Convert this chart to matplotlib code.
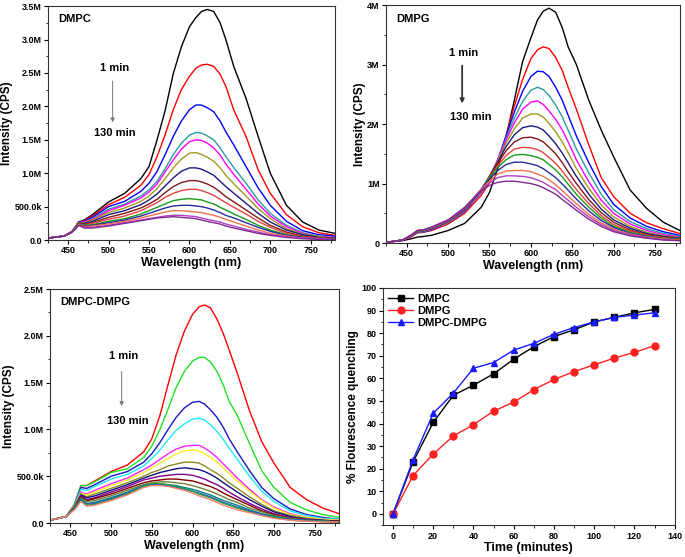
import numpy as np
import matplotlib
matplotlib.use("Agg")
import matplotlib.pyplot as plt
from matplotlib.ticker import MultipleLocator, FuncFormatter

plt.rcParams['font.family'] = ['Liberation Sans', 'DejaVu Sans']
plt.rcParams['font.weight'] = 'bold'

# wavelength grid (nm) shared by all spectra
wl = [425, 445, 455, 463, 470, 480, 500, 520, 540, 550, 560, 570, 580, 590, 600,
      608, 615, 622, 630, 638, 645, 655, 670, 685, 700, 720, 740, 760, 780]

# intensities in millions of CPS, 1 min ... 130 min
dmpc = [
    [0.03, 0.06, 0.13, 0.27, 0.30, 0.38, 0.57, 0.70, 0.92, 1.10, 1.50, 1.94, 2.49, 2.89, 3.19, 3.33, 3.42, 3.45, 3.42, 3.25, 3.00, 2.59, 2.12, 1.55, 1.00, 0.52, 0.27, 0.15, 0.10],
    [0.03, 0.06, 0.13, 0.27, 0.29, 0.36, 0.53, 0.64, 0.82, 0.98, 1.25, 1.58, 1.95, 2.25, 2.45, 2.57, 2.62, 2.63, 2.60, 2.48, 2.30, 1.94, 1.55, 1.05, 0.70, 0.38, 0.20, 0.11, 0.07],
    [0.03, 0.06, 0.13, 0.27, 0.28, 0.34, 0.50, 0.58, 0.73, 0.85, 1.03, 1.28, 1.55, 1.78, 1.95, 2.02, 2.02, 1.98, 1.92, 1.78, 1.62, 1.42, 1.10, 0.78, 0.52, 0.28, 0.14, 0.08, 0.06],
    [0.03, 0.06, 0.13, 0.26, 0.27, 0.32, 0.46, 0.54, 0.66, 0.75, 0.88, 1.07, 1.28, 1.45, 1.57, 1.61, 1.60, 1.56, 1.50, 1.38, 1.25, 1.08, 0.85, 0.60, 0.40, 0.22, 0.11, 0.06, 0.04],
    [0.03, 0.06, 0.13, 0.26, 0.27, 0.31, 0.44, 0.52, 0.63, 0.72, 0.84, 1.02, 1.20, 1.36, 1.47, 1.50, 1.49, 1.45, 1.38, 1.27, 1.14, 0.98, 0.76, 0.54, 0.36, 0.20, 0.10, 0.05, 0.04],
    [0.03, 0.06, 0.13, 0.26, 0.26, 0.30, 0.41, 0.48, 0.58, 0.66, 0.77, 0.92, 1.08, 1.21, 1.30, 1.31, 1.28, 1.24, 1.18, 1.08, 0.97, 0.84, 0.66, 0.47, 0.32, 0.17, 0.09, 0.05, 0.03],
    [0.03, 0.06, 0.12, 0.25, 0.25, 0.28, 0.38, 0.44, 0.53, 0.60, 0.69, 0.81, 0.93, 1.03, 1.08, 1.08, 1.06, 1.02, 0.97, 0.88, 0.80, 0.70, 0.55, 0.40, 0.27, 0.15, 0.08, 0.04, 0.03],
    [0.03, 0.06, 0.12, 0.25, 0.24, 0.26, 0.34, 0.40, 0.48, 0.54, 0.61, 0.71, 0.80, 0.86, 0.89, 0.89, 0.87, 0.84, 0.79, 0.72, 0.65, 0.57, 0.45, 0.33, 0.22, 0.12, 0.06, 0.03, 0.02],
    [0.03, 0.06, 0.12, 0.24, 0.23, 0.25, 0.31, 0.36, 0.44, 0.50, 0.56, 0.64, 0.70, 0.74, 0.76, 0.76, 0.74, 0.71, 0.67, 0.61, 0.56, 0.49, 0.39, 0.28, 0.19, 0.10, 0.05, 0.03, 0.02],
    [0.03, 0.06, 0.12, 0.24, 0.22, 0.23, 0.28, 0.32, 0.39, 0.44, 0.49, 0.54, 0.59, 0.61, 0.62, 0.61, 0.60, 0.57, 0.54, 0.49, 0.45, 0.39, 0.31, 0.22, 0.15, 0.08, 0.04, 0.02, 0.02],
    [0.03, 0.06, 0.12, 0.23, 0.21, 0.22, 0.26, 0.30, 0.36, 0.40, 0.44, 0.48, 0.51, 0.52, 0.52, 0.51, 0.50, 0.48, 0.45, 0.41, 0.37, 0.33, 0.26, 0.19, 0.13, 0.07, 0.04, 0.02, 0.01],
    [0.03, 0.06, 0.12, 0.23, 0.20, 0.21, 0.24, 0.28, 0.33, 0.36, 0.39, 0.42, 0.44, 0.44, 0.43, 0.42, 0.41, 0.39, 0.37, 0.34, 0.31, 0.27, 0.21, 0.15, 0.10, 0.06, 0.03, 0.02, 0.01],
    [0.03, 0.06, 0.12, 0.22, 0.19, 0.19, 0.22, 0.26, 0.30, 0.32, 0.34, 0.36, 0.37, 0.37, 0.36, 0.35, 0.33, 0.31, 0.29, 0.27, 0.24, 0.21, 0.16, 0.12, 0.08, 0.05, 0.03, 0.02, 0.01],
    [0.03, 0.06, 0.12, 0.22, 0.18, 0.18, 0.21, 0.25, 0.29, 0.31, 0.33, 0.34, 0.35, 0.34, 0.33, 0.32, 0.30, 0.28, 0.26, 0.24, 0.21, 0.18, 0.14, 0.10, 0.07, 0.04, 0.02, 0.01, 0.01],
]

dmpg = [
    [0.01, 0.04, 0.07, 0.10, 0.11, 0.13, 0.21, 0.33, 0.60, 0.85, 1.25, 1.78, 2.40, 3.05, 3.45, 3.75, 3.90, 3.95, 3.88, 3.62, 3.30, 3.00, 2.40, 1.90, 1.45, 0.89, 0.58, 0.35, 0.21],
    [0.01, 0.05, 0.10, 0.17, 0.18, 0.21, 0.32, 0.50, 0.80, 1.02, 1.35, 1.80, 2.30, 2.75, 3.10, 3.25, 3.30, 3.27, 3.12, 2.90, 2.62, 2.25, 1.65, 1.10, 0.78, 0.50, 0.34, 0.24, 0.16],
    [0.01, 0.05, 0.11, 0.18, 0.19, 0.22, 0.34, 0.53, 0.85, 1.08, 1.40, 1.80, 2.20, 2.55, 2.80, 2.89, 2.88, 2.80, 2.62, 2.40, 2.15, 1.80, 1.35, 0.95, 0.65, 0.42, 0.28, 0.19, 0.13],
    [0.01, 0.05, 0.11, 0.18, 0.19, 0.23, 0.34, 0.54, 0.86, 1.10, 1.40, 1.76, 2.10, 2.38, 2.57, 2.62, 2.58, 2.48, 2.32, 2.12, 1.90, 1.58, 1.18, 0.82, 0.56, 0.36, 0.24, 0.16, 0.11],
    [0.01, 0.05, 0.11, 0.19, 0.20, 0.23, 0.35, 0.55, 0.87, 1.11, 1.40, 1.73, 2.02, 2.25, 2.37, 2.39, 2.33, 2.22, 2.08, 1.90, 1.70, 1.40, 1.03, 0.72, 0.50, 0.32, 0.21, 0.14, 0.10],
    [0.01, 0.05, 0.12, 0.19, 0.20, 0.24, 0.35, 0.56, 0.88, 1.12, 1.38, 1.68, 1.92, 2.10, 2.17, 2.17, 2.12, 2.01, 1.87, 1.70, 1.52, 1.25, 0.92, 0.64, 0.44, 0.28, 0.18, 0.12, 0.09],
    [0.01, 0.05, 0.12, 0.19, 0.20, 0.24, 0.36, 0.56, 0.89, 1.12, 1.36, 1.62, 1.82, 1.94, 1.97, 1.95, 1.90, 1.80, 1.67, 1.51, 1.35, 1.12, 0.82, 0.57, 0.39, 0.25, 0.16, 0.11, 0.08],
    [0.01, 0.05, 0.12, 0.20, 0.21, 0.25, 0.36, 0.57, 0.90, 1.12, 1.34, 1.55, 1.70, 1.77, 1.78, 1.75, 1.70, 1.61, 1.50, 1.35, 1.20, 1.00, 0.73, 0.51, 0.35, 0.22, 0.14, 0.10, 0.07],
    [0.01, 0.05, 0.12, 0.20, 0.21, 0.25, 0.37, 0.57, 0.90, 1.11, 1.30, 1.47, 1.58, 1.61, 1.60, 1.57, 1.52, 1.44, 1.34, 1.21, 1.08, 0.90, 0.66, 0.46, 0.31, 0.20, 0.13, 0.09, 0.06],
    [0.01, 0.05, 0.12, 0.20, 0.21, 0.25, 0.37, 0.58, 0.90, 1.10, 1.27, 1.40, 1.48, 1.49, 1.47, 1.44, 1.40, 1.32, 1.23, 1.11, 0.99, 0.82, 0.60, 0.42, 0.28, 0.18, 0.12, 0.08, 0.06],
    [0.01, 0.05, 0.13, 0.21, 0.22, 0.26, 0.37, 0.58, 0.90, 1.07, 1.22, 1.32, 1.36, 1.36, 1.33, 1.30, 1.25, 1.18, 1.10, 0.99, 0.89, 0.74, 0.54, 0.38, 0.26, 0.16, 0.11, 0.07, 0.05],
    [0.01, 0.05, 0.13, 0.21, 0.22, 0.26, 0.38, 0.59, 0.90, 1.04, 1.16, 1.21, 1.22, 1.22, 1.20, 1.16, 1.12, 1.06, 0.98, 0.88, 0.79, 0.66, 0.48, 0.34, 0.23, 0.15, 0.10, 0.07, 0.05],
    [0.01, 0.05, 0.13, 0.21, 0.22, 0.26, 0.38, 0.59, 0.89, 1.01, 1.10, 1.13, 1.13, 1.12, 1.10, 1.06, 1.02, 0.96, 0.90, 0.80, 0.72, 0.60, 0.44, 0.31, 0.21, 0.14, 0.09, 0.06, 0.04],
    [0.01, 0.05, 0.13, 0.21, 0.22, 0.27, 0.39, 0.60, 0.88, 0.97, 1.02, 1.04, 1.04, 1.02, 1.00, 0.97, 0.93, 0.88, 0.82, 0.73, 0.66, 0.55, 0.40, 0.28, 0.19, 0.12, 0.08, 0.05, 0.04],
]

mix = [
    [0.03, 0.07, 0.20, 0.40, 0.40, 0.45, 0.55, 0.62, 0.76, 0.90, 1.15, 1.48, 1.80, 2.05, 2.23, 2.31, 2.33, 2.30, 2.18, 2.02, 1.85, 1.60, 1.20, 0.87, 0.64, 0.38, 0.25, 0.16, 0.10],
    [0.03, 0.07, 0.20, 0.40, 0.40, 0.44, 0.54, 0.58, 0.70, 0.82, 1.00, 1.22, 1.45, 1.62, 1.73, 1.77, 1.77, 1.72, 1.62, 1.47, 1.30, 1.15, 0.85, 0.56, 0.38, 0.22, 0.14, 0.09, 0.06],
    [0.03, 0.07, 0.19, 0.38, 0.37, 0.41, 0.50, 0.55, 0.65, 0.74, 0.86, 1.00, 1.13, 1.23, 1.29, 1.30, 1.27, 1.21, 1.13, 1.02, 0.90, 0.76, 0.56, 0.38, 0.26, 0.15, 0.09, 0.06, 0.04],
    [0.03, 0.07, 0.19, 0.36, 0.35, 0.39, 0.47, 0.52, 0.61, 0.69, 0.78, 0.89, 0.99, 1.06, 1.11, 1.12, 1.10, 1.05, 0.98, 0.89, 0.80, 0.68, 0.50, 0.34, 0.23, 0.13, 0.08, 0.05, 0.04],
    [0.03, 0.07, 0.18, 0.33, 0.31, 0.35, 0.42, 0.48, 0.57, 0.62, 0.68, 0.74, 0.79, 0.82, 0.83, 0.83, 0.80, 0.76, 0.70, 0.63, 0.57, 0.48, 0.36, 0.25, 0.17, 0.10, 0.06, 0.04, 0.03],
    [0.03, 0.07, 0.18, 0.32, 0.30, 0.33, 0.40, 0.46, 0.54, 0.59, 0.64, 0.69, 0.74, 0.77, 0.78, 0.77, 0.74, 0.70, 0.65, 0.59, 0.53, 0.45, 0.34, 0.24, 0.16, 0.09, 0.06, 0.04, 0.03],
    [0.03, 0.07, 0.17, 0.31, 0.28, 0.31, 0.37, 0.43, 0.50, 0.54, 0.57, 0.61, 0.63, 0.65, 0.65, 0.64, 0.61, 0.57, 0.53, 0.48, 0.43, 0.37, 0.28, 0.20, 0.13, 0.08, 0.05, 0.03, 0.02],
    [0.03, 0.07, 0.17, 0.30, 0.27, 0.29, 0.35, 0.41, 0.48, 0.51, 0.54, 0.56, 0.58, 0.59, 0.58, 0.57, 0.55, 0.52, 0.48, 0.43, 0.39, 0.33, 0.25, 0.18, 0.12, 0.07, 0.04, 0.03, 0.02],
    [0.03, 0.07, 0.17, 0.29, 0.25, 0.27, 0.33, 0.39, 0.46, 0.48, 0.50, 0.51, 0.52, 0.52, 0.51, 0.49, 0.47, 0.44, 0.41, 0.37, 0.33, 0.28, 0.21, 0.15, 0.10, 0.06, 0.04, 0.02, 0.02],
    [0.03, 0.07, 0.16, 0.28, 0.24, 0.26, 0.31, 0.37, 0.43, 0.45, 0.46, 0.47, 0.47, 0.46, 0.45, 0.43, 0.41, 0.39, 0.36, 0.32, 0.29, 0.25, 0.19, 0.13, 0.09, 0.05, 0.03, 0.02, 0.02],
    [0.03, 0.07, 0.16, 0.27, 0.23, 0.24, 0.29, 0.35, 0.41, 0.43, 0.44, 0.44, 0.43, 0.42, 0.40, 0.38, 0.36, 0.34, 0.31, 0.28, 0.25, 0.22, 0.16, 0.12, 0.08, 0.05, 0.03, 0.02, 0.01],
    [0.03, 0.07, 0.15, 0.26, 0.21, 0.22, 0.27, 0.33, 0.40, 0.42, 0.42, 0.41, 0.40, 0.38, 0.36, 0.34, 0.32, 0.30, 0.27, 0.24, 0.22, 0.19, 0.14, 0.10, 0.07, 0.04, 0.03, 0.02, 0.01],
    [0.03, 0.07, 0.15, 0.25, 0.20, 0.21, 0.26, 0.32, 0.39, 0.41, 0.41, 0.40, 0.38, 0.36, 0.34, 0.32, 0.30, 0.28, 0.25, 0.22, 0.20, 0.17, 0.13, 0.09, 0.06, 0.04, 0.02, 0.02, 0.01],
    [0.03, 0.07, 0.15, 0.24, 0.19, 0.20, 0.25, 0.31, 0.39, 0.42, 0.42, 0.41, 0.39, 0.37, 0.34, 0.31, 0.29, 0.27, 0.24, 0.21, 0.19, 0.16, 0.12, 0.08, 0.06, 0.03, 0.02, 0.02, 0.01],
    [0.03, 0.07, 0.14, 0.23, 0.18, 0.19, 0.24, 0.30, 0.38, 0.40, 0.40, 0.39, 0.37, 0.35, 0.32, 0.29, 0.27, 0.25, 0.22, 0.19, 0.17, 0.14, 0.11, 0.08, 0.05, 0.03, 0.02, 0.01, 0.01],
]

colors_a = ['#000000', '#ff0000', '#0000ff', '#2a9c9c', '#ff00ff', '#a09a20', '#1a1a80',
            '#801818', '#e84040', '#1a9a1a', '#2a2aa0', '#f07050', '#b040c0', '#802890']
colors_b = ['#ff0000', '#20e020', '#1818c0', '#20e8f8', '#ff20ff', '#f8f020', '#8a8a20',
            '#101080', '#800090', '#800000', '#708030', '#008080', '#3050d0', '#20a040', '#ff8070']

# quenching kinetics
time_min = [0, 10, 20, 30, 40, 50, 60, 70, 80, 90, 100, 110, 120, 130]
q_dmpc = [0, 23, 40.5, 52.5, 57, 62, 68.5, 74, 78.5, 81.5, 85, 87, 89, 90.5]
q_dmpg = [0, 17, 26.5, 34.5, 39.5, 45.5, 49.5, 55, 59.5, 63, 66, 69, 71.5, 74.5]
q_mix = [0, 24, 44.5, 53.5, 64.5, 67, 72.5, 75.5, 79.5, 82.5, 85, 87, 88, 89]

fig = plt.figure(figsize=(6.85, 5.57), dpi=100)
ax1 = fig.add_axes([0.070, 0.569, 0.419, 0.420])
ax2 = fig.add_axes([0.5635, 0.5637, 0.429, 0.427])
ax3 = fig.add_axes([0.073, 0.061, 0.422, 0.420])
ax4 = fig.add_axes([0.559, 0.057, 0.426, 0.426])


def fmt_k(v, pos):
    if v == 0:
        return '0.0'
    if v < 1e6:
        return f'{v / 1e3:.1f}k'
    return f'{v / 1e6:.1f}M'


def fmt_m(v, pos):
    if v == 0:
        return '0'
    return f'{v / 1e6:.0f}M'


def style(ax):
    ax.tick_params(direction='out', length=3, width=0.8, labelsize=6.5, pad=1.5,
                   top=False, right=False)
    ax.tick_params(which='minor', direction='out', length=1.8, width=0.6)
    for sp in ax.spines.values():
        sp.set_linewidth(0.8)
        sp.set_color('#333333')
    for lab in ax.get_xticklabels() + ax.get_yticklabels():
        lab.set_fontweight('bold')


def spectra(ax, data, colors, ymax, major, fmt, name, t1, arrow, t2, arrow_lw):
    for curve, c in zip(data, colors):
        ax.plot(wl, np.array(curve) * 1e6, color=c, lw=1.0)
    ax.set_xlim(425, 780)
    ax.set_ylim(0, ymax)
    ax.xaxis.set_major_locator(MultipleLocator(50))
    ax.xaxis.set_minor_locator(MultipleLocator(25))
    ax.yaxis.set_major_locator(MultipleLocator(major))
    ax.yaxis.set_minor_locator(MultipleLocator(major / 2))
    ax.yaxis.set_major_formatter(FuncFormatter(fmt))
    ax.set_xlabel('Wavelength (nm)', fontsize=9, fontweight='bold', labelpad=1)
    ax.set_ylabel('Intensity (CPS)', fontsize=8.5, fontweight='bold', labelpad=1)
    ax.text(0.035, 0.965, name, transform=ax.transAxes, fontsize=8, fontweight='bold', va='top')
    ax.text(t1[0], t1[1], '1 min', fontsize=8, fontweight='bold', ha='center', va='center')
    ax.text(t2[0], t2[1], '130 min', fontsize=8, fontweight='bold', ha='center', va='center')
    ax.annotate('', xy=(arrow[0], arrow[2]), xytext=(arrow[0], arrow[1]),
                arrowprops=dict(arrowstyle='-|>', color='#333333' if arrow_lw > 1 else '#777777',
                                lw=arrow_lw, mutation_scale=6))
    style(ax)


spectra(ax1, dmpc, colors_a, 3.5e6, 0.5e6, fmt_k, 'DMPC',
        (508, 2.57e6), (505, 2.42e6, 1.72e6), (508, 1.60e6), 0.7)
spectra(ax2, dmpg, colors_a, 4.0e6, 1.0e6, fmt_m, 'DMPG',
        (519, 3.20e6), (517, 3.03e6, 2.30e6), (528, 2.12e6), 1.3)
spectra(ax3, mix, colors_b, 2.5e6, 0.5e6, fmt_k, 'DMPC-DMPG',
        (515, 1.78e6), (513, 1.65e6, 1.22e6), (520, 1.09e6), 0.7)

ax4.plot(time_min, q_dmpc, color='black', marker='s', ms=4.5, lw=1.0, label='DMPC')
ax4.plot(time_min, q_dmpg, color='#ff2020', marker='o', ms=5, lw=1.0, label='DMPG')
ax4.plot(time_min, q_mix, color='#1a1aff', marker='^', ms=5, lw=1.0, label='DMPC-DMPG')
ax4.set_xlim(-5, 140)
ax4.set_ylim(-5, 100)
ax4.xaxis.set_major_locator(MultipleLocator(20))
ax4.xaxis.set_minor_locator(MultipleLocator(10))
ax4.yaxis.set_major_locator(MultipleLocator(10))
ax4.yaxis.set_minor_locator(MultipleLocator(5))
ax4.set_xlabel('Time (minutes)', fontsize=9, fontweight='bold', labelpad=1)
ax4.set_ylabel('% Flourescence quenching', fontsize=8.5, fontweight='bold', labelpad=2)
leg = ax4.legend(loc='upper left', frameon=False, fontsize=8, handlelength=2.2,
                 borderaxespad=0.1, labelspacing=0.2, handletextpad=0.4)
for t in leg.get_texts():
    t.set_fontweight('bold')
style(ax4)

fig.savefig('out.png', dpi=100)
